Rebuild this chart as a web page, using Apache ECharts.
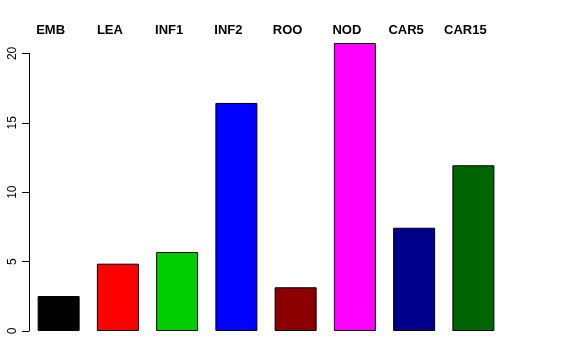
<!DOCTYPE html>
<html>
<head>
<meta charset="utf-8">
<script src="https://cdn.jsdelivr.net/npm/echarts@6/dist/echarts.min.js"></script>
<style>html,body{margin:0;padding:0;background:#fff}#c{width:576px;height:360px}</style>
</head>
<body>
<div id="c"></div>
<script>
var categories = ["EMB", "LEA", "INF1", "INF2", "ROO", "NOD", "CAR5", "CAR15"];
var values = [2.52, 4.85, 5.69, 16.43, 3.15, 20.75, 7.44, 11.94];
var barColors = ["#000000", "#FF0000", "#00CD00", "#0000FF", "#8B0000", "#FF00FF", "#00008B", "#006400"];
var yTicks = [0, 5, 10, 15, 20];

var chart = echarts.init(document.getElementById('c'), null, {renderer: 'canvas'});
var font = "'Liberation Sans', Arial, Helvetica, sans-serif";
chart.setOption({
  animation: false,
  backgroundColor: '#ffffff',
  grid: [
    {left: 29, width: 474, top: 53.4, bottom: 29, containLabel: false},
    {left: 21, width: 474, top: 53.4, bottom: 29, containLabel: false}
  ],
  xAxis: [
    {type: 'category', gridIndex: 0, data: categories, show: false},
    {type: 'category', gridIndex: 1, data: categories, position: 'top',
     axisLine: {show: false}, axisTick: {show: false}, splitLine: {show: false},
     axisLabel: {show: true, interval: 0, margin: 16, color: '#000', fontFamily: font, fontSize: 13, fontWeight: 'bold'}}
  ],
  yAxis: [
    {type: 'value', gridIndex: 0, min: yTicks[0], max: yTicks[yTicks.length - 1], interval: 5,
     axisLine: {show: true, lineStyle: {color: '#000', width: 1}},
     axisTick: {show: true, length: 7, inside: false, lineStyle: {color: '#000', width: 1}},
     splitLine: {show: false},
     axisLabel: {show: true, rotate: 90, margin: 10, color: '#000', fontFamily: font, fontSize: 12}},
    {type: 'value', gridIndex: 1, min: 0, max: 20, show: false}
  ],
  series: [{
    type: 'bar',
    xAxisIndex: 0, yAxisIndex: 0,
    clip: false,
    barWidth: 42,
    data: values.map(function (v, i) {
      return {value: v, itemStyle: {color: barColors[i], borderColor: '#000', borderWidth: 1}};
    })
  }]
});
</script>
</body>
</html>
